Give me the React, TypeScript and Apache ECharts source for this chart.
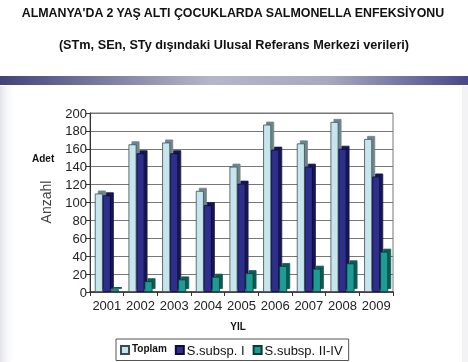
import React, { useEffect, useRef } from "react";
import * as echarts from "echarts";

const years = ["2001", "2002", "2003", "2004", "2005", "2006", "2007", "2008", "2009"];
const toplam = [110, 165, 167, 113, 140, 187, 166, 190, 171];
const subspI = [108, 155, 155, 97, 121, 159, 140, 160, 129];
const subspII = [3, 12, 14, 17, 21, 29, 26, 32, 45];
const yTicks = { min: 0, max: 200, interval: 20 };

const titleText = "ALMANYA'DA 2 YAŞ ALTI ÇOCUKLARDA SALMONELLA ENFEKSİYONU";
const subtitleText = "(STm, SEn, STy dışındaki Ulusal Referans Merkezi verileri)";

export default function App() {
  const ref = useRef<HTMLDivElement>(null);
  useEffect(() => {
    if (!ref.current) return;
    const chart = echarts.init(ref.current, null, { renderer: "svg" });
    const font = "'Liberation Sans', Arial, sans-serif";
    const bar = (name: string, data: number[], color: string, border: string, side: string) => ({
      name,
      type: "bar",
      data,
      barWidth: 8,
      barGap: "0%",
      itemStyle: {
        color,
        borderColor: border,
        borderWidth: 0.8,
        shadowColor: side,
        shadowOffsetX: 3,
        shadowOffsetY: -3,
        shadowBlur: 0,
      },
    });
    chart.setOption({
      animation: false,
      textStyle: { fontFamily: font },
      graphic: [
        { type: "rect", z: -10, silent: true, shape: { x: 0, y: 0, width: 468, height: 362 }, style: { fill: "#ffffff" } },
        {
          type: "rect", z: -9, silent: true, shape: { x: 0, y: 86, width: 16, height: 276 },
          style: { fill: new echarts.graphic.LinearGradient(0, 0, 1, 0, [{ offset: 0, color: "#e2e3ea" }, { offset: 1, color: "rgba(255,255,255,0)" }]) },
        },
        {
          type: "rect", z: -9, silent: true, shape: { x: 462, y: 86, width: 6, height: 276 },
          style: { fill: "#f3f3f5" },
        },
        {
          type: "rect", z: -8, silent: true, shape: { x: 0, y: 76, width: 468, height: 9 },
          style: {
            fill: new echarts.graphic.LinearGradient(0, 0, 1, 0, [
              { offset: 0, color: "#43437a" },
              { offset: 0.45, color: "#b6b6c8" },
              { offset: 0.7, color: "#a8a8c0" },
              { offset: 1, color: "#48488a" },
            ]),
          },
        },
        {
          type: "text", left: "center", top: 7,
          style: { text: titleText, font: `bold 12.4px ${font}`, fill: "#111" },
        },
        {
          type: "text", left: "center", top: 38,
          style: { text: subtitleText, font: `bold 12.7px ${font}`, fill: "#111" },
        },
        {
          type: "text", x: 32, y: 153,
          style: { text: "Adet", font: `bold 10px ${font}`, fill: "#111" },
        },
        {
          type: "text", x: 46, y: 202, rotation: Math.PI / 2, originX: 0, originY: 0,
          style: { text: "Anzahl", font: `14px ${font}`, fill: "#444", align: "center", verticalAlign: "middle" },
        },
        {
          type: "text", x: 238, y: 326,
          style: { text: "YIL", font: `bold 10px ${font}`, fill: "#111", align: "center", verticalAlign: "middle" },
        },
      ],
      grid: { left: 90, top: 113, width: 303, height: 179, show: true, borderColor: "#777", borderWidth: 1, backgroundColor: "#fff" },
      legend: {
        left: 116,
        top: 339,
        width: 240,
        padding: [4, 6, 4, 4],
        borderColor: "#555",
        borderWidth: 1,
        borderRadius: 0,
        itemWidth: 8,
        itemHeight: 8,
        itemGap: 8,
        icon: "rect",
        data: ["Toplam", "S.subsp. I", "S.subsp. II-IV"],
        formatter: (name: string) => (name === "Toplam" ? `{b|${name}}` : `{n|${name}}`),
        textStyle: {
          padding: [0, 0, 0, -2],
          rich: {
            b: { fontFamily: font, fontWeight: "bold", fontSize: 10, color: "#111", padding: [0, 16, 4, 0] },
            n: { fontFamily: font, fontSize: 13, color: "#111" },
          },
        },
      },
      xAxis: {
        type: "category",
        data: years,
        axisLine: { lineStyle: { color: "#333", width: 1.5 } },
        axisTick: { show: true, length: 4, interval: 0, lineStyle: { color: "#333" } },
        axisLabel: { fontFamily: font, fontSize: 13, color: "#222", margin: 7, interval: 0 },
      },
      yAxis: {
        type: "value",
        min: yTicks.min,
        max: yTicks.max,
        interval: yTicks.interval,
        axisLine: { show: true, lineStyle: { color: "#333" } },
        axisTick: { show: true, length: 4, lineStyle: { color: "#333" } },
        axisLabel: { fontFamily: font, fontSize: 13, color: "#222", margin: 3 },
        splitLine: { lineStyle: { color: "#777", width: 1 } },
      },
      series: [
        bar("Toplam", toplam, "#c6e5ec", "#3a4c52", "#6f8589"),
        bar("S.subsp. I", subspI, "#2e2e8c", "#0c0c3a", "#141450"),
        bar("S.subsp. II-IV", subspII, "#1e9c92", "#083a36", "#0e5a54"),
      ],
    });
    return () => chart.dispose();
  }, []);
  return (
    <div style={{ position: "fixed", left: 0, top: 0, width: 468, height: 362 }}>
      <div ref={ref} style={{ width: 468, height: 362 }} />
    </div>
  );
}
